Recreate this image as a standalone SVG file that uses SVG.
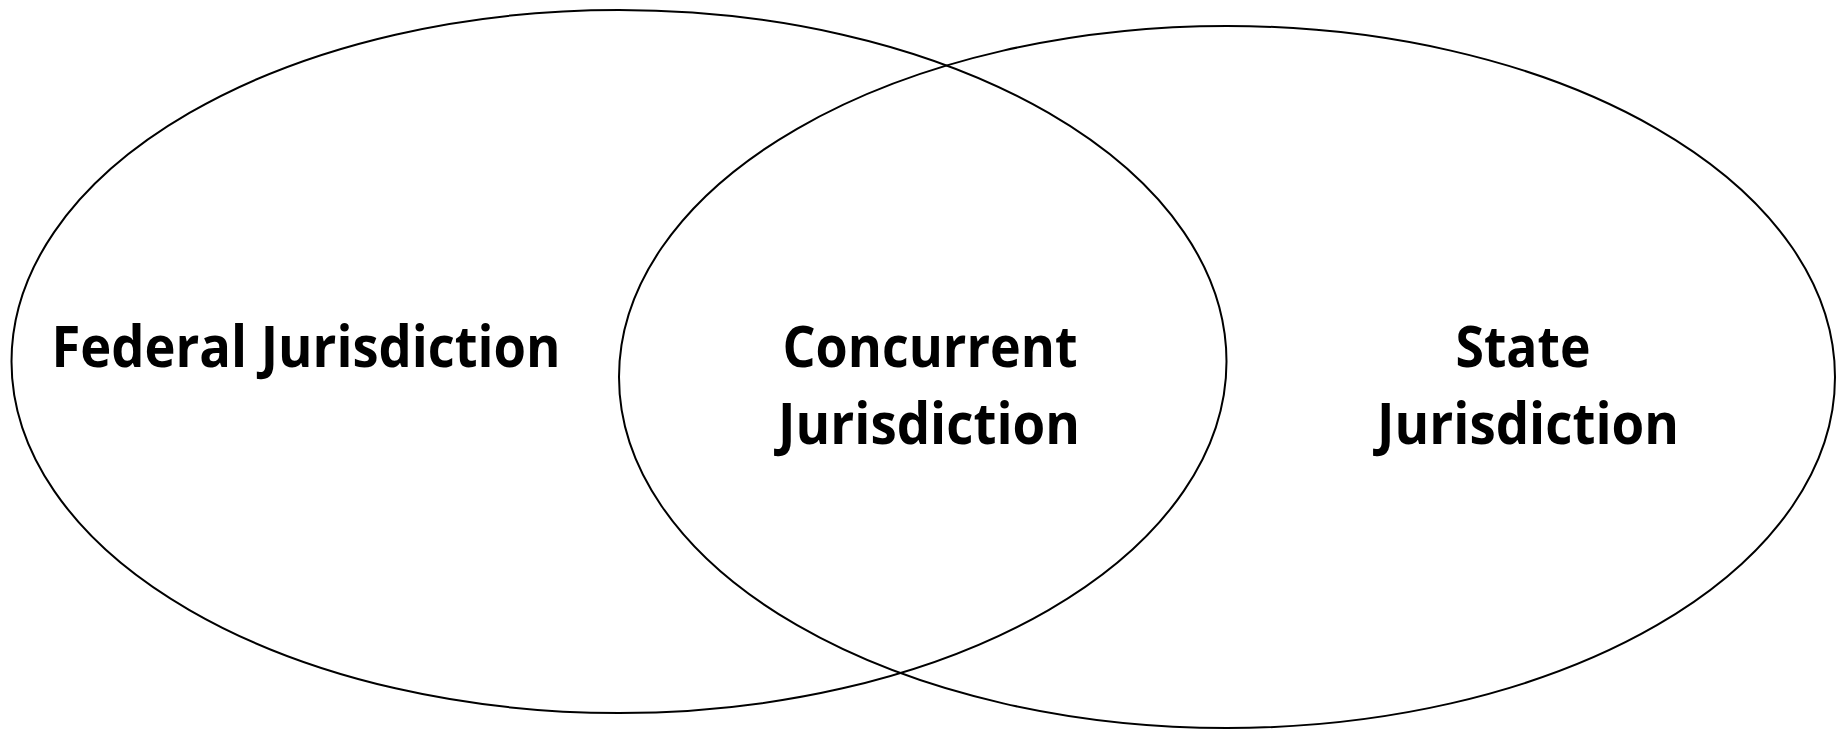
<svg xmlns="http://www.w3.org/2000/svg" width="1841" height="729" viewBox="0 0 1841 729">
  <style>
    .set { fill: none; stroke: #000; stroke-width: 2; }
    .label { font-family: "Open Sans", "Liberation Sans", sans-serif; font-weight: 700; font-size: 58px; fill: #000; text-anchor: middle; }
  </style>
  <rect width="1841" height="729" fill="#fff"/>
  <g id="federal">
    <ellipse class="set" cx="619" cy="361.5" rx="607.5" ry="351.5"/>
    <text class="label" x="306" y="367" textLength="509" lengthAdjust="spacingAndGlyphs">Federal Jurisdiction</text>
  </g>
  <g id="state">
    <ellipse class="set" cx="1227" cy="377" rx="608" ry="351"/>
    <text class="label" x="1523" y="367" textLength="135" lengthAdjust="spacingAndGlyphs">State</text>
    <text class="label" x="1528" y="444" textLength="302" lengthAdjust="spacingAndGlyphs">Jurisdiction</text>
  </g>
  <g id="concurrent">
    <text class="label" x="930" y="367" textLength="295" lengthAdjust="spacingAndGlyphs">Concurrent</text>
    <text class="label" x="929" y="444" textLength="302" lengthAdjust="spacingAndGlyphs">Jurisdiction</text>
  </g>
</svg>
